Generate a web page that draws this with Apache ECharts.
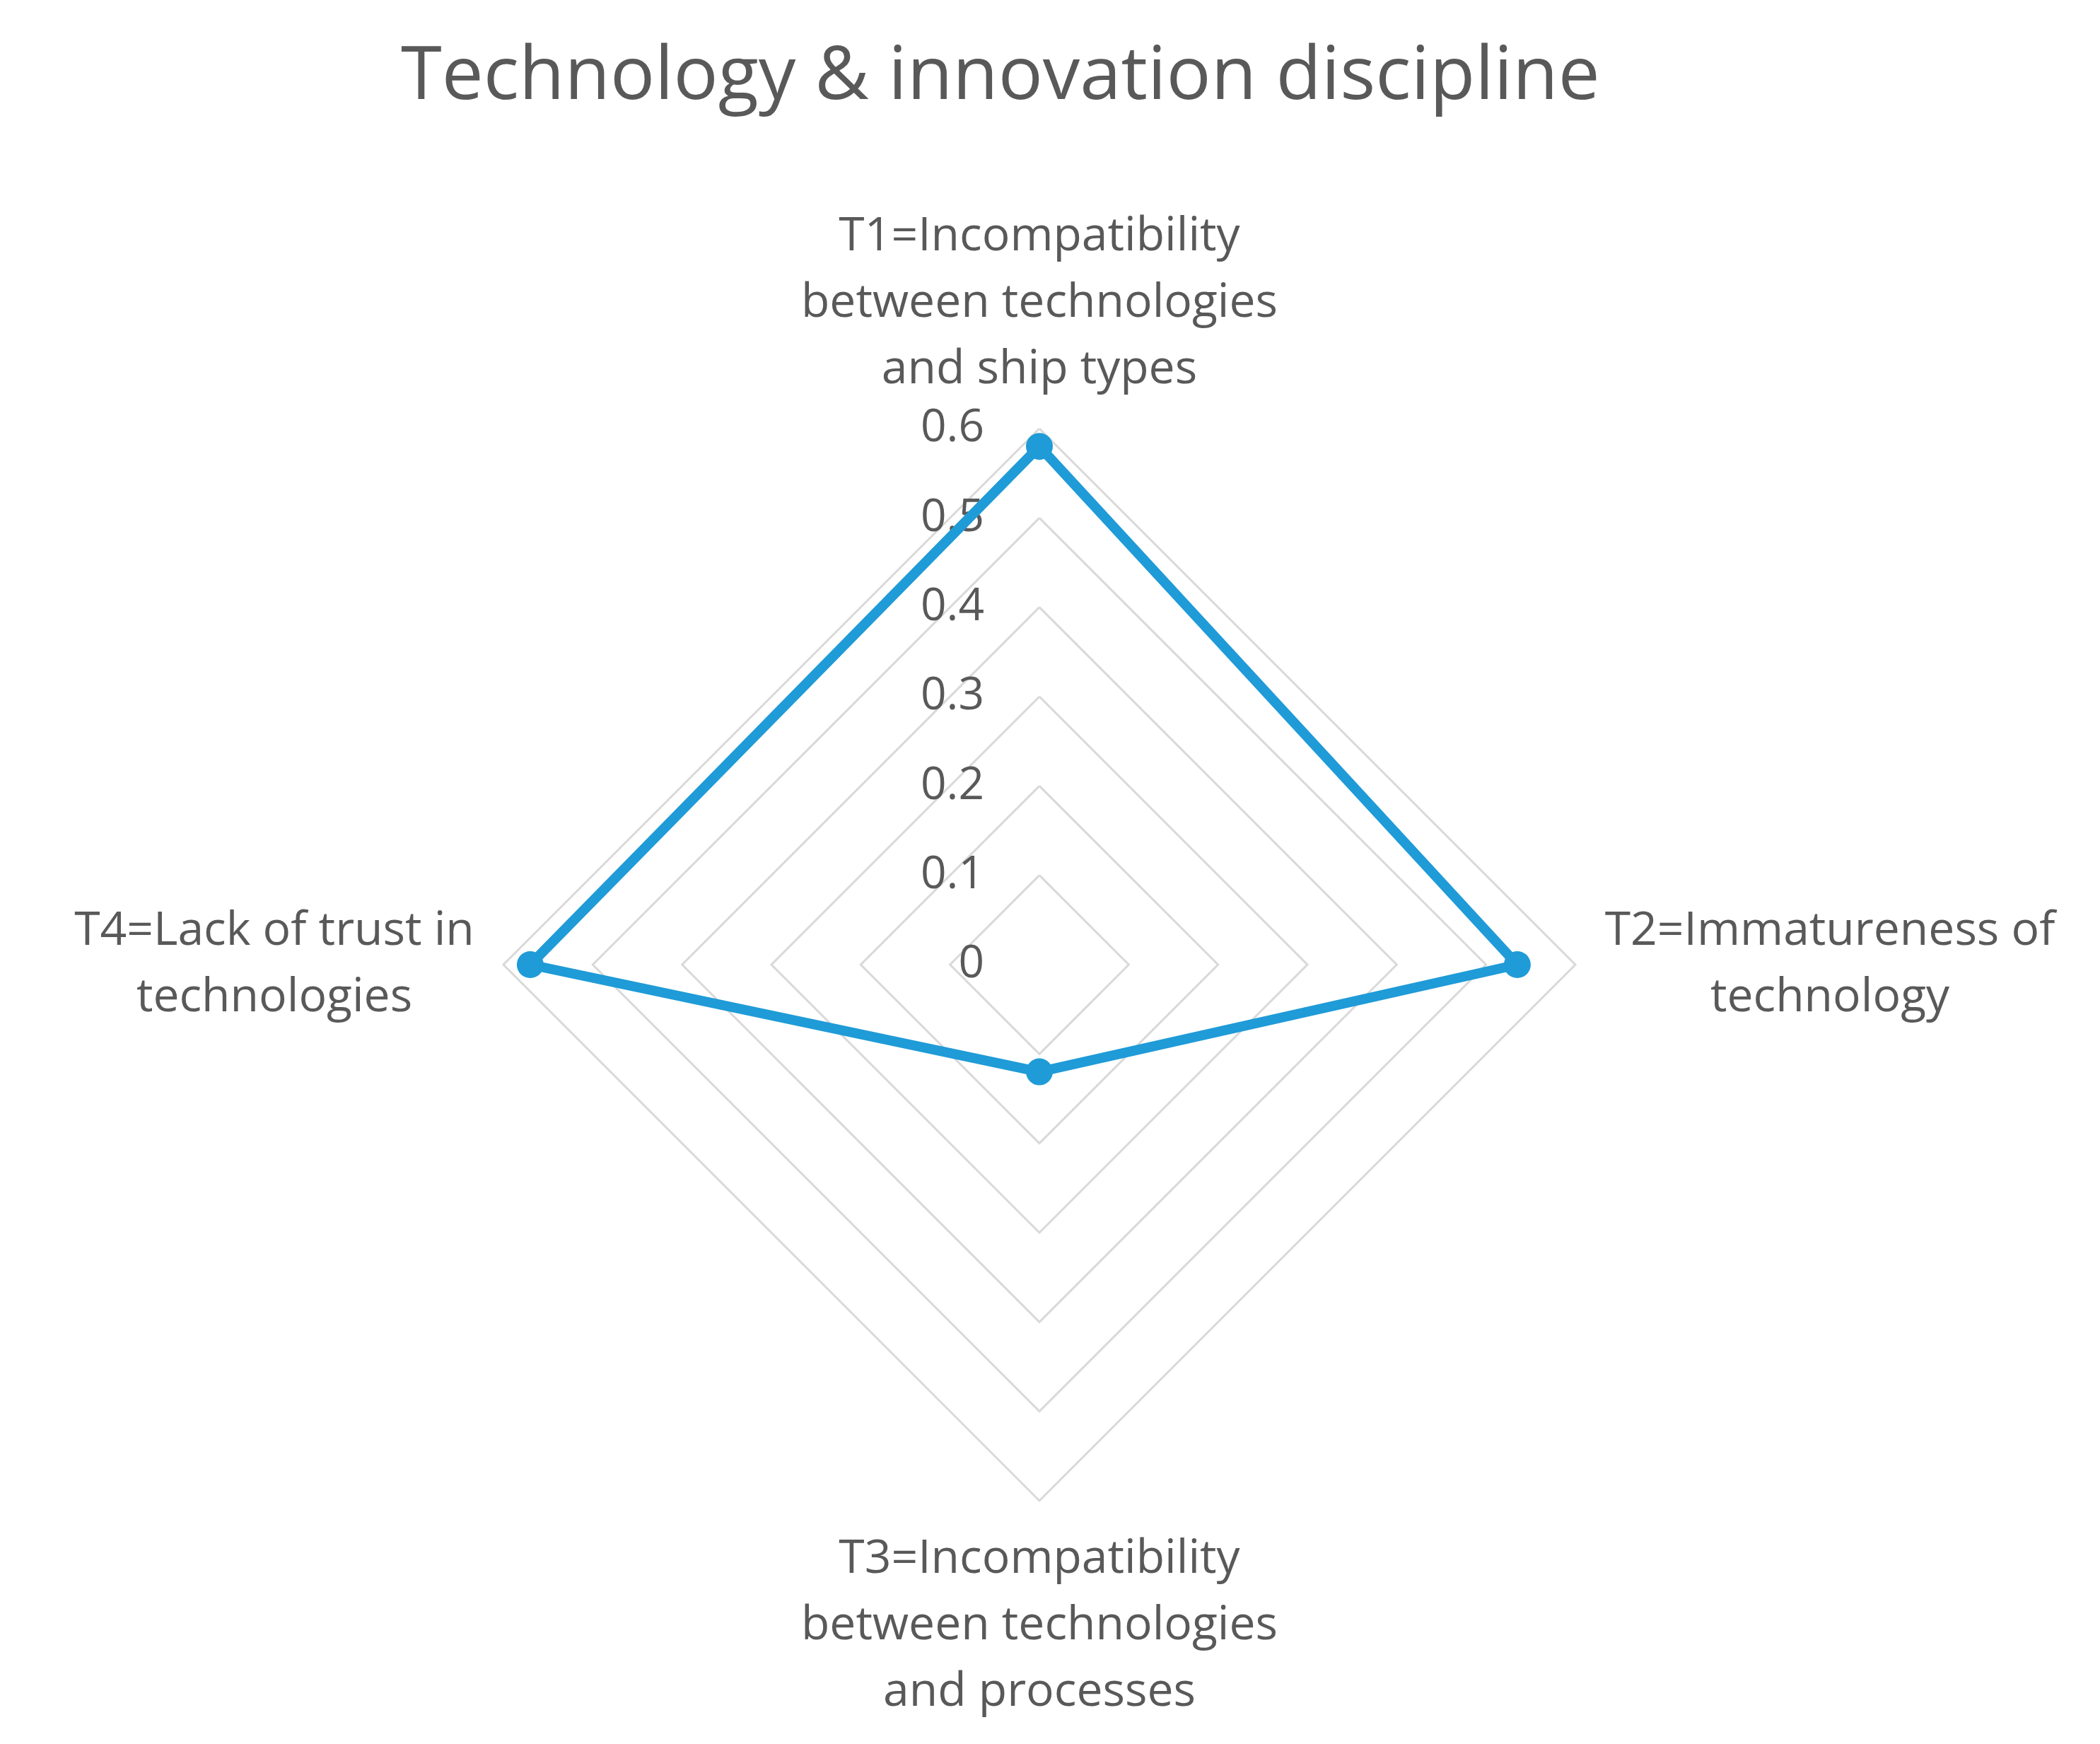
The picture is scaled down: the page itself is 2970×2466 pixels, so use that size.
<!DOCTYPE html>
<html>
<head>
<meta charset="utf-8">
<script src="https://cdn.jsdelivr.net/npm/echarts@6/dist/echarts.min.js"></script>
<style>
    html, body { margin: 0; padding: 0; background: #fff; }
    #chart { width: 2970px; height: 2466px; }
</style>
</head>
<body>
<div id="chart"></div>
<script>
let chart = echarts.init(document.getElementById('chart'));

// 数据
let chart_title = 'Technology & innovation discipline';
let indicator_names = [
    'T1=Incompatibility\nbetween technologies\nand ship types',
    'T2=Immatureness of\ntechnology',
    'T3=Incompatibility\nbetween technologies\nand processes',
    'T4=Lack of trust in\ntechnologies'
];
let scores = [0.58, 0.535, 0.12, 0.57];
let scale_max = 0.6;
let scale_splits = 6;

// echarts radar goes counter-clockwise, Excel clockwise
let draw_order = [0, 3, 2, 1];
let rich_key = ['c', 'l', 'c', 'r'];

let text_color = '#595959';
let line_color = '#1f9bd7';
let font = 'Open Sans';

let radar_center = [1470, 1364];
let radar_radius = 758;

let option = {
    backgroundColor: '#fff',
    title: {
        text: chart_title,
        left: 562,
        top: 53,
        textStyle: {
            color: text_color,
            fontFamily: font,
            fontSize: 105,
            fontWeight: 'normal'
        }
    },
    radar: [
        {
            center: radar_center,
            radius: radar_radius,
            startAngle: 90,
            shape: 'polygon',
            splitNumber: scale_splits,
            nameGap: 36,
            indicator: draw_order.map(i => ({
                name: indicator_names[i],
                min: 0,
                max: scale_max
            })),
            axisName: {
                color: text_color,
                fontFamily: font,
                fontSize: 66,
                lineHeight: 94,
                formatter: function (value) {
                    let idx = indicator_names.indexOf(value);
                    let key = rich_key[draw_order.indexOf(idx)];
                    return value.split('\n').map(s => '{' + key + '|' + s + '}').join('\n');
                },
                rich: {
                    c: {color: text_color, fontFamily: font, fontSize: 66, lineHeight: 94, align: 'center'},
                    l: {color: text_color, fontFamily: font, fontSize: 66, lineHeight: 94, width: 576, align: 'center'},
                    r: {color: text_color, fontFamily: font, fontSize: 66, lineHeight: 94, width: 648, align: 'center'}
                }
            },
            axisLine: {show: false},
            axisTick: {show: false},
            axisLabel: {show: false},
            splitArea: {show: false},
            splitLine: {
                lineStyle: {color: '#d9d9d9', width: 3}
            }
        },
        {
            // only the vertical scale labels
            center: radar_center,
            radius: radar_radius,
            startAngle: 90,
            splitNumber: scale_splits,
            indicator: [{name: '', min: 0, max: scale_max}],
            axisName: {show: false},
            axisLine: {show: false},
            axisTick: {show: false},
            splitArea: {show: false},
            splitLine: {show: false},
            axisLabel: {
                show: true,
                color: text_color,
                fontFamily: font,
                fontSize: 64,
                margin: 78,
                formatter: function (v) {
                    return String(Math.round(v * 10) / 10);
                }
            }
        }
    ],
    series: [
        {
            type: 'radar',
            radarIndex: 0,
            symbol: 'circle',
            symbolSize: 38,
            lineStyle: {color: line_color, width: 14},
            itemStyle: {color: line_color},
            data: [{
                value: draw_order.map(i => scores[i]),
                name: 'score'
            }]
        }
    ]
};

chart.setOption(option);
</script>
</body>
</html>
